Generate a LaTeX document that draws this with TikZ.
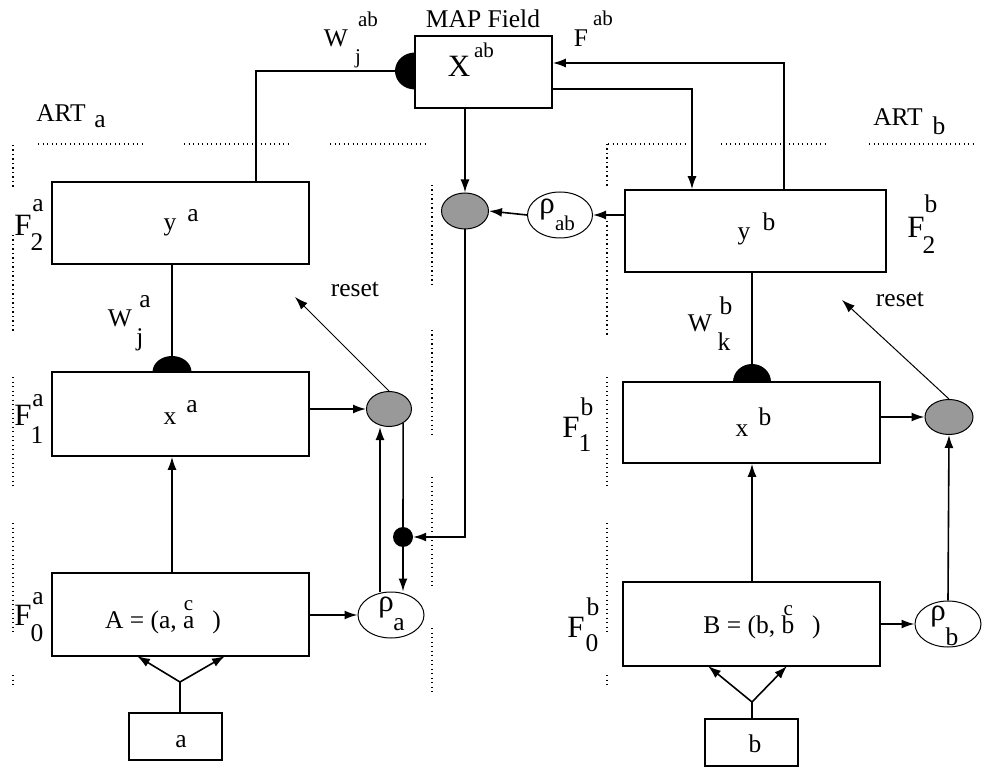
\documentclass[tikz,border=0pt]{standalone}
\usepackage{fontspec}
\setmainfont{Liberation Serif}
\usetikzlibrary{arrows.meta,shapes.geometric}
\newcommand{\fmain}{\fontsize{25.5}{25.5}\selectfont}
\newcommand{\fbig}{\fontsize{31}{31}\selectfont}
\newcommand{\fsml}{\fontsize{21}{21}\selectfont}
\newcommand{\frho}{\fontsize{31}{31}\selectfont}
\begin{document}
\begin{tikzpicture}[x=1pt,y=-1pt,
  box/.style={draw,line width=1.6pt,fill=white,inner sep=0},
  ln/.style={line width=1.6pt},
  ar/.style={line width=1.6pt,-{Latex[length=13pt,width=9pt]}},
  thinar/.style={line width=1pt,-{Latex[length=13pt,width=9pt]}},
  dotln/.style={line width=1.3pt,dash pattern=on 1.3pt off 3.2pt},
  blob/.style={ellipse,fill=black,inner sep=0},
  grayc/.style={ellipse,draw,line width=1pt,fill=black!40,inner sep=0},
  rho/.style={ellipse,draw,line width=1pt,fill=white,inner sep=0},
  tmain/.style={inner sep=0,font=\fmain},
  tbig/.style={inner sep=0,font=\fbig},
  tsml/.style={inner sep=0,font=\fsml},
  trho/.style={inner sep=0,font=\frho}]
\useasboundingbox (0,0) rectangle (997,770);

% dotted separators
\draw[dotln] (38,144) -- (142,144);
\draw[dotln] (184,144) -- (288,144);
\draw[dotln] (330,144) -- (428,144);
\draw[dotln] (608,144) -- (685,144);
\draw[dotln] (721,144) -- (827,144);
\draw[dotln] (869,144) -- (976,144);
\foreach \a/\b in {145/188,235/333,377/487,523/633,675/688}
  \draw[dotln] (13,\a) -- (13,\b);
\foreach \a/\b in {185/288,330/435,477/587,628/692}
  \draw[dotln] (432,\a) -- (432,\b);
\foreach \a/\b in {144/188,221/335,377/487,523/632,675/688}
  \draw[dotln] (607,\a) -- (607,\b);

% blobs (behind boxes)
\node[blob,minimum width=40pt,minimum height=37pt] (wab) at (415,71) {};
\node[blob,minimum width=39pt,minimum height=32pt] (wa) at (172,372) {};
\node[blob,minimum width=38pt,minimum height=36pt] (wb) at (752,382) {};

% boxes
\node[box,minimum width=137pt,minimum height=72pt] (Xab) at (483.5,72) {};
\node[box,minimum width=257pt,minimum height=82pt] (ya) at (180.5,223) {};
\node[box,minimum width=257pt,minimum height=84pt] (xa) at (180.5,414) {};
\node[box,minimum width=257pt,minimum height=83pt] (Aa) at (180.5,614.5) {};
\node[box,minimum width=93pt,minimum height=47pt] (ina) at (175.5,736.5) {};
\node[box,minimum width=261pt,minimum height=82pt] (yb) at (755.5,231) {};
\node[box,minimum width=257pt,minimum height=81pt] (xb) at (751.5,422.5) {};
\node[box,minimum width=257pt,minimum height=84pt] (Bb) at (751.5,624) {};
\node[box,minimum width=93pt,minimum height=47pt] (inb) at (751.5,742.5) {};

% gray comparators, dot, rho
\node[grayc,minimum width=47pt,minimum height=36pt] (gab) at (465,211) {};
\node[grayc,minimum width=45pt,minimum height=35pt] (ga) at (389,409) {};
\node[grayc,minimum width=48pt,minimum height=35pt] (gb) at (949,417) {};
\node[circle,fill=black,inner sep=0,minimum size=20pt] (dot) at (403,537) {};
\node[rho,minimum width=65pt,minimum height=46pt] (rab) at (560,215) {};
\node[rho,minimum width=66pt,minimum height=46pt] (ra) at (391,615) {};
\node[rho,minimum width=66pt,minimum height=46pt] (rb) at (948,624) {};

\coordinate (rsa) at (295,297);
\coordinate (rsb) at (842,300);
\coordinate (fa) at (180,682);
\coordinate (fa1) at (137,656);
\coordinate (fa2) at (225,656);
\coordinate (fb) at (752,702);
\coordinate (fb1) at (708,666);
\coordinate (fb2) at (787,666);

% MAP field connections
\draw[ln] (ya.north -| 256,0) |- (wab.west);
\draw[ar] (Xab.south -| gab.north) -- (gab.north);
\draw[ar] (yb.north -| 784,0) |- (Xab.east |- 0,63);
\draw[ar] (Xab.east |- 0,89) -| (yb.north -| 692,0);
\draw[ar] (yb.west |- rab.east) -- (rab.east);
\draw[ar] (rab.west) -- (gab.east);
\draw[ar] (gab.south) |- (dot.east);

% ART a
\draw[ln] (ya.south -| wa.north) -- (wa.north);
\draw[ar] (xa.east |- ga.west) -- (ga.west);
\draw[thinar] (ga.north) -- (rsa);
\draw[ln] (ga.-45) -- (dot.north);
\draw[ar] (dot.south) -- (ra.north -| dot.south);
\draw[ar] (ra.north -| 380,0) -- (ga.south -| 380,0);
\draw[ar] (Aa.east |- ra.west) -- (ra.west);
\draw[ar] (Aa.north -| wa.north) -- (xa.south -| wa.north);
\draw[ln] (ina.north -| fa) -- (fa);
\draw[ar] (fa) -- (fa1);
\draw[ar] (fa) -- (fa2);

% ART b
\draw[ln] (yb.south -| wb.north) -- (wb.north);
\draw[ar] (xb.east |- gb.west) -- (gb.west);
\draw[thinar] (gb.north) -- (rsb);
\draw[ar] (rb.north) -- (gb.south);
\draw[ar] (Bb.east |- rb.west) -- (rb.west);
\draw[ar] (Bb.north -| wb.north) -- (xb.south -| wb.north);
\draw[ln] (inb.north -| fb) -- (fb);
\draw[ar] (fb) -- (fb1);
\draw[ar] (fb) -- (fb2);

% texts: MAP field
\node[tmain] (tmap) at (483,19) {MAP Field};
\node[tbig] (tX) at (459,66) {X};
\node[tsml] (tXs) at (484,50) {ab};
\node[tmain] (tWab) at (336,38) {W};
\node[tsml] (tWabs) at (368,19) {ab};
\node[tsml] (tWabj) at (358,59) {j};
\node[tmain] (tFab) at (581,38) {F};
\node[tsml] (tFabs) at (603,18) {ab};

% ART a texts
\node[tmain] (tARTa) at (61,113) {ART};
\node[tmain] (tARTas) at (100,122) {a};
\node[tbig] (tF2a) at (23,225) {F};
\node[tmain] (tF2as) at (38,206) {a};
\node[tmain] (tF2ai) at (37,242) {2};
\node[tmain] (tya) at (170,227) {y};
\node[tmain] (tyas) at (193,216) {a};
\node[tmain] (tWa) at (120,318) {W};
\node[tmain] (tWas) at (145,302) {a};
\node[tmain] (tWaj) at (140,340) {j};
\node[tbig] (tF1a) at (23,415) {F};
\node[tmain] (tF1as) at (38,401) {a};
\node[tmain] (tF1ai) at (37,435) {1};
\node[tmain] (txa) at (170,419) {x};
\node[tmain] (txas) at (192,407) {a};
\node[tmain] (trsa) at (355,289) {reset};
\node[tbig] (tF0a) at (23,615) {F};
\node[tmain] (tF0as) at (38,599) {a};
\node[tmain] (tF0ai) at (37,633) {0};
\node[tmain] (tA) at (163,617) {A = (a, a\makebox[0pt][r]{\raisebox{0.72em}{\fsml c}\hspace{0.05em}}\hspace{0.7em})};
\node[trho] (tra) at (386,608) {ρ};
\node[tmain] (tras) at (399,625) {a};
\node[tmain] (tina) at (181,742) {a};

% ART b texts
\node[tmain] (tARTb) at (898,117) {ART};
\node[tmain] (tARTbs) at (939,126) {b};
\node[tmain] (tyb) at (744,236) {y};
\node[tmain] (tybs) at (769,222) {b};
\node[tbig] (tF2b) at (916,227) {F};
\node[tmain] (tF2bs) at (931,204) {b};
\node[tmain] (tF2bi) at (929,245) {2};
\node[trho] (trab) at (547,210) {ρ};
\node[tsml] (trabs) at (565,223) {ab};
\node[tmain] (tWb) at (700,323) {W};
\node[tmain] (tWbs) at (726,306) {b};
\node[tmain] (tWbk) at (724,342) {k};
\node[tbig] (tF1b) at (571,427) {F};
\node[tmain] (tF1bs) at (587,407) {b};
\node[tmain] (tF1bi) at (585,443) {1};
\node[tmain] (txb) at (742,431) {x};
\node[tmain] (txbs) at (765,417) {b};
\node[tmain] (trsb) at (900,299) {reset};
\node[tbig] (tF0b) at (576,627) {F};
\node[tmain] (tF0bs) at (593,607) {b};
\node[tmain] (tF0bi) at (592,643) {0};
\node[tmain] (tB) at (762,622) {B = (b, b\makebox[0pt][r]{\raisebox{0.72em}{\fsml c}\hspace{0.05em}}\hspace{0.7em})};
\node[trho] (trb) at (938,617) {ρ};
\node[tmain] (trbs) at (952,637) {b};
\node[tmain] (tinb) at (755,744) {b};
\end{tikzpicture}
\end{document}
